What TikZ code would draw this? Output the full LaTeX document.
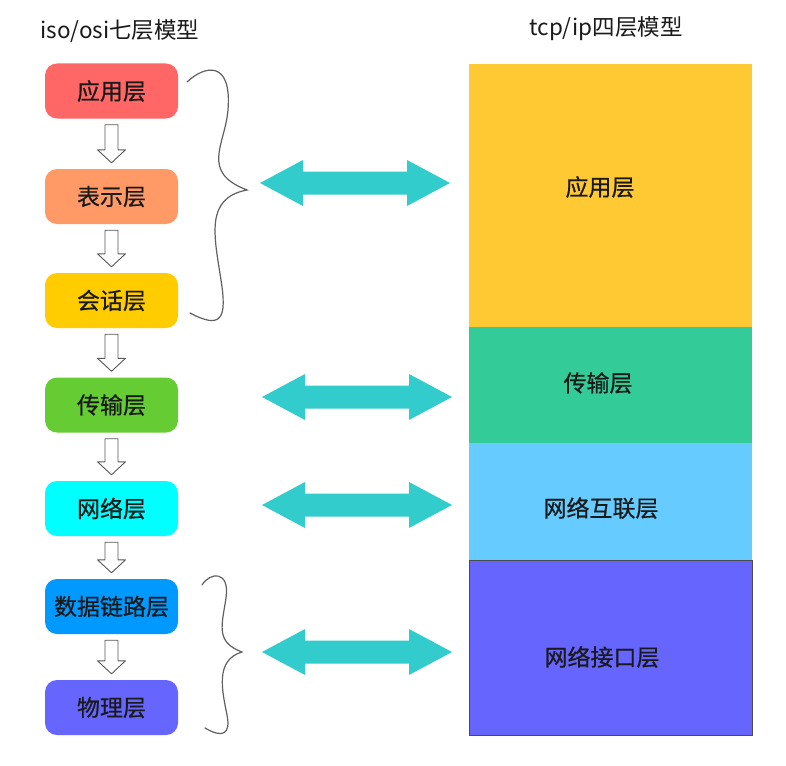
\documentclass[tikz,border=0pt]{standalone}
\usepackage{fontspec}
\setmainfont{Noto Sans CJK SC}
\newfontfamily\lblfont{Noto Sans CJK SC}[FakeBold=0.6]
\usetikzlibrary{calc}
\definecolor{cred}{HTML}{FF6666}
\definecolor{corange}{HTML}{FF9966}
\definecolor{cyellow}{HTML}{FFCC00}
\definecolor{cgreen}{HTML}{66CC33}
\definecolor{ccyan}{HTML}{00FFFF}
\definecolor{cblue}{HTML}{0099FF}
\definecolor{cviolet}{HTML}{6666FF}
\definecolor{cteal}{HTML}{33CCCC}
\definecolor{tapp}{HTML}{FFC933}
\definecolor{ttrans}{HTML}{33CC99}
\definecolor{tnet}{HTML}{66CCFF}
\definecolor{tlink}{HTML}{6666FF}
\definecolor{txtc}{HTML}{1A1A1A}
\tikzset{
  lbox/.style={rectangle, rounded corners=12pt, minimum width=133pt, minimum height=55pt, inner sep=0pt, font=\lblfont\fontsize{23}{27}\selectfont, text=txtc},
  rbox/.style={rectangle, minimum width=283pt, inner sep=0pt},
  rtxt/.style={inner sep=0pt, font=\lblfont\fontsize{23}{27}\selectfont, text=txtc},
  ttl/.style={inner sep=0pt, font=\fontsize{22.5}{26}\selectfont, text=txtc},
  hollow/.style={draw=gray!70!black, fill=white, line width=0.9pt, line join=round},
  bracestyle/.style={draw=gray!75!black, line width=1.2pt, line cap=round},
  tealarrow/.style={fill=cteal}
}
\newcommand\hollowdown[2]{%
  \coordinate (ht) at ($(#1.south)!6pt!(#2.north)$);
  \coordinate (hp) at ($(#2.north)!6pt!(#1.south)$);
  \coordinate (hh) at ($(#2.north)!19pt!(#1.south)$);
  \draw[hollow] ($(ht)+(-6.5,0)$) -- ($(ht)+(6.5,0)$) -- ($(hh)+(6.5,0)$) -- ($(hh)+(14,0)$) -- (hp) -- ($(hh)+(-14,0)$) -- ($(hh)+(-6.5,0)$) -- cycle;}
\newcommand\dblarrow[2]{%
  \fill[tealarrow] (#1) -- ($(#1)+(43,-23)$) -- ($(#1)+(43,-11.5)$) -- ($(#2)+(-43,-11.5)$) -- ($(#2)+(-43,-23)$) -- (#2) -- ($(#2)+(-43,23)$) -- ($(#2)+(-43,11.5)$) -- ($(#1)+(43,11.5)$) -- ($(#1)+(43,23)$) -- cycle;}
\begin{document}
\begin{tikzpicture}[x=1pt,y=-1pt]
\useasboundingbox (0,0) rectangle (786,765);
\fill[white] (0,0) rectangle (786,765);
% titles
\node[ttl] (t1) at (120,31) {iso/osi七层模型};
\node[ttl] (t2) at (606,29) {tcp/ip四层模型};
% left boxes
\node[lbox, fill=cred] (l1) at (111.5,91) {应用层};
\node[lbox, fill=corange] (l2) at (111.5,196.5) {表示层};
\node[lbox, fill=cyellow] (l3) at (111.5,300.5) {会话层};
\node[lbox, fill=cgreen] (l4) at (111.5,405) {传输层};
\node[lbox, fill=ccyan] (l5) at (111.5,508.5) {网络层};
\node[lbox, fill=cblue] (l6) at (111.5,606.5) {数据链路层};
\node[lbox, fill=cviolet] (l7) at (111.5,707.5) {物理层};
\hollowdown{l1}{l2}
\hollowdown{l2}{l3}
\hollowdown{l3}{l4}
\hollowdown{l4}{l5}
\hollowdown{l5}{l6}
\hollowdown{l6}{l7}
% braces
\draw[bracestyle] (187,82) .. controls (205,65) and (232,60) .. (228,110)
  .. controls (225,145) and (200,172) .. (247,190)
  .. controls (205,198) and (214,235) .. (221,280)
  .. controls (227,318) and (222,330) .. (190,313);
\draw[bracestyle] (202,585) .. controls (210,572) and (230,570) .. (226,598)
  .. controls (222,625) and (215,642) .. (242,652)
  .. controls (215,660) and (222,690) .. (227,715)
  .. controls (231,735) and (222,738) .. (205,728);
% right stack
\node[rbox, fill=tapp, minimum height=263pt] (r1) at (610.5,195.5) {};
\node[rbox, fill=ttrans, minimum height=116pt] (r2) at (610.5,385) {};
\node[rbox, fill=tnet, minimum height=117pt] (r3) at (610.5,501.5) {};
\node[rbox, fill=tlink, minimum height=175pt, draw=black!70, line width=0.8pt] (r4) at (610.5,647.5) {};
\node[rtxt] (r1t) at (600,187) {应用层};
\node[rtxt] (r2t) at (598,383) {传输层};
\node[rtxt] (r3t) at (601,508) {网络互联层};
\node[rtxt] (r4t) at (602,657) {网络接口层};
% teal double arrows
\coordinate (a1l) at (260,183); \coordinate (a1r) at (450,183);
\coordinate (a2l) at (262,397); \coordinate (a2r) at (452,397);
\coordinate (a3l) at (262,505); \coordinate (a3r) at (452,505);
\coordinate (a4l) at (262,652); \coordinate (a4r) at (452,652);
\dblarrow{a1l}{a1r}
\dblarrow{a2l}{a2r}
\dblarrow{a3l}{a3r}
\dblarrow{a4l}{a4r}
\end{tikzpicture}
\end{document}
